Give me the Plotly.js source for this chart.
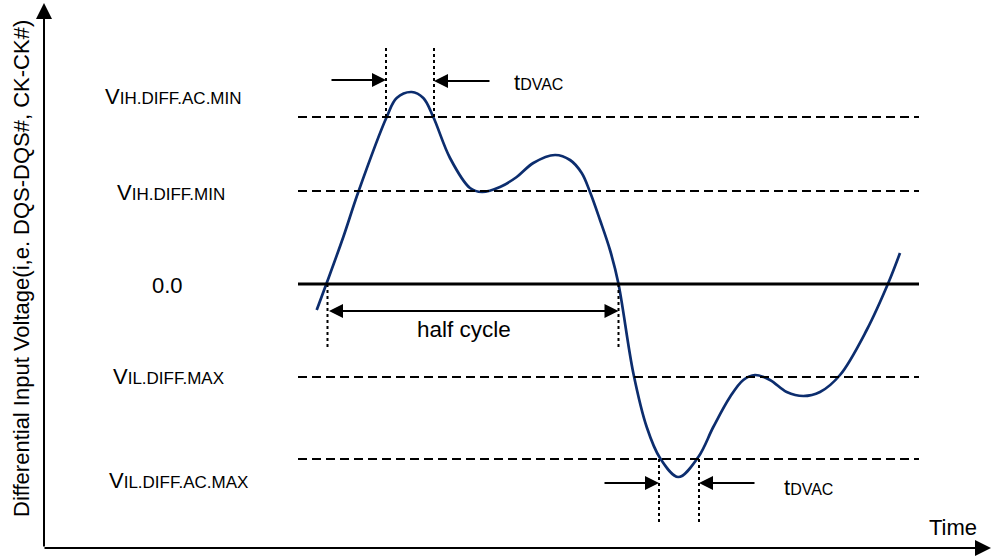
<!DOCTYPE html>
<html>
<head>
<meta charset="utf-8">
<script src="https://cdn.plot.ly/plotly-3.0.1.min.js"></script>
<style>
  html, body { margin: 0; padding: 0; background: #fff; }
  #chart { width: 993px; height: 556px; }
</style>
</head>
<body>
<div id="chart"></div>
<script>
// Differential input waveform (time in px-scale units, voltage relative to 0.0)
const waveTime = [316.7, 326.7, 343.3, 358.3, 386.7, 396.7, 411.7, 423.3, 433.3, 450, 470, 482, 500, 516.7, 533.3, 555, 570, 581.7, 590, 600, 610, 618.3, 633.3, 646.7, 660, 678.3, 698.3, 713.3, 730, 743.3, 755, 770, 786.7, 803.3, 820, 840, 866.7, 888.3, 900];
const waveVolt = [-26, 1, 47, 92, 167, 186, 192, 186, 167, 126, 96, 92, 97, 107, 121, 129, 124, 111, 92, 64, 34, 1, -89, -143, -174, -193, -173, -143, -113, -96, -91, -96, -108, -112, -108, -91, -46, 1, 31];

// Threshold levels
const levelNames = ['VIH.DIFF.AC.MIN', 'VIH.DIFF.MIN', '0.0', 'VIL.DIFF.MAX', 'VIL.DIFF.AC.MAX'];
const levelValues = [167, 93, 0, -93, -175];

// Timing markers: tDVAC windows and the half cycle
const tdvacHigh = [386, 434];
const tdvacLow = [659, 699];
const halfCycle = [327.5, 618.5];

const FONT = 'Arial, "Liberation Sans", sans-serif';
const Y0 = 284;           // zero line position within the 556 px frame
const yv = p => Y0 - p;   // frame pixel row -> voltage units

function labelHtml(name) {
  if (name === '0.0') return name;
  return name.charAt(0) + '<span style="font-size:17px">' + name.slice(1) + '</span>';
}

const shapes = [];
const annotations = [];

// level lines
levelValues.forEach((v, i) => {
  const isZero = levelNames[i] === '0.0';
  shapes.push({
    type: 'line', xref: 'x', yref: 'y',
    x0: 298, x1: 919, y0: v, y1: v,
    line: { color: '#000', width: isZero ? 3 : 2, dash: isZero ? 'solid' : '9px,5px' }
  });
});

// level labels
const labelX = [173.5, 171, 167.5, 168.5, 178.5];
const labelY = [yv(96), yv(192), yv(285), yv(376), yv(480)];
levelNames.forEach((n, i) => {
  annotations.push({
    x: labelX[i], y: labelY[i], xref: 'x', yref: 'y',
    text: labelHtml(n), showarrow: false,
    font: { family: FONT, size: 22, color: '#000' },
    xanchor: 'center', yanchor: 'middle'
  });
});

// dotted verticals
function vdot(x, y0, y1) {
  shapes.push({
    type: 'line', xref: 'x', yref: 'y', x0: x, x1: x, y0: y0, y1: y1,
    line: { color: '#000', width: 2, dash: '3px,3px' }
  });
}
vdot(tdvacHigh[0], levelValues[0], yv(48));
vdot(tdvacHigh[1], levelValues[0], yv(45));
vdot(halfCycle[0], 0, yv(350));
vdot(halfCycle[1], 0, yv(350));
vdot(tdvacLow[0], levelValues[4], yv(524));
vdot(tdvacLow[1], levelValues[4], yv(524));

// arrows
function arrow(xTip, yTip, xTail, yTail, size, both) {
  annotations.push({
    x: xTip, y: yTip, ax: xTail, ay: yTail,
    xref: 'x', yref: 'y', axref: 'x', ayref: 'y',
    text: '', showarrow: true, arrowhead: 2, startarrowhead: 2,
    arrowside: both ? 'end+start' : 'end',
    arrowsize: size, startarrowsize: size, arrowwidth: 2, arrowcolor: '#000',
    standoff: 0, startstandoff: 0
  });
}
arrow(tdvacHigh[0], yv(80), 330, yv(80), 1.4);
arrow(tdvacHigh[1], yv(81), 491, yv(81), 1.4);
arrow(tdvacLow[0], yv(483), 603, yv(483), 1.4);
arrow(tdvacLow[1], yv(483), 756, yv(483), 1.4);
arrow(halfCycle[1], yv(311), halfCycle[0], yv(311), 1.4, true);

// axes
arrow(44, yv(3), 44, yv(548), 1.6);
arrow(991, yv(548), 43, yv(548), 1.6);

// text labels
const tLabel = 't<span style="font-size:16px">DVAC</span>';
annotations.push({ x: 512, y: yv(82), xref: 'x', yref: 'y', text: tLabel, showarrow: false,
  font: { family: FONT, size: 22, color: '#000' }, xanchor: 'left', yanchor: 'middle' });
annotations.push({ x: 782, y: yv(487), xref: 'x', yref: 'y', text: tLabel, showarrow: false,
  font: { family: FONT, size: 22, color: '#000' }, xanchor: 'left', yanchor: 'middle' });
annotations.push({ x: 464, y: yv(329), xref: 'x', yref: 'y', text: 'half cycle', showarrow: false,
  font: { family: FONT, size: 22.5, color: '#000' }, xanchor: 'center', yanchor: 'middle' });
annotations.push({ x: 953, y: yv(527), xref: 'x', yref: 'y', text: 'Time', showarrow: false,
  font: { family: FONT, size: 22, color: '#000' }, xanchor: 'center', yanchor: 'middle' });
annotations.push({ x: 21, y: yv(269), xref: 'x', yref: 'y',
  text: 'Differential Input Voltage(i,e. DQS-DQS#, CK-CK#)', showarrow: false, textangle: -90,
  font: { family: FONT, size: 22, color: '#000' }, xanchor: 'center', yanchor: 'middle' });

const trace = {
  x: waveTime, y: waveVolt, type: 'scatter', mode: 'lines',
  line: { color: '#0c2d6e', width: 2.7, shape: 'spline', smoothing: 1 },
  hoverinfo: 'skip'
};

const layout = {
  width: 993, height: 556,
  margin: { l: 0, r: 0, t: 0, b: 0 },
  paper_bgcolor: '#fff', plot_bgcolor: '#fff',
  showlegend: false,
  xaxis: { range: [0, 993], visible: false, fixedrange: true },
  yaxis: { range: [Y0 - 556, Y0], visible: false, fixedrange: true },
  shapes: shapes,
  annotations: annotations
};

Plotly.newPlot('chart', [trace], layout, { staticPlot: true, displayModeBar: false });
</script>
</body>
</html>
